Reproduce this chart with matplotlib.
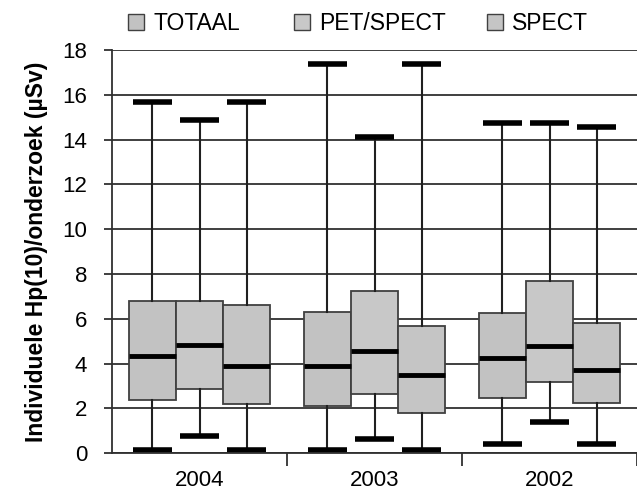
import matplotlib
matplotlib.use("Agg")
import matplotlib.pyplot as plt
from matplotlib.patches import Patch
import numpy as np

plt.rcParams['font.family'] = ['Liberation Sans', 'DejaVu Sans']

years = ["2004", "2003", "2002"]
series = ["TOTAAL", "PET/SPECT", "SPECT"]

# per series: values per year (2004, 2003, 2002)
whislo = {"TOTAAL": [0.13, 0.13, 0.4], "PET/SPECT": [0.76, 0.65, 1.4], "SPECT": [0.13, 0.13, 0.4]}
q1 = {"TOTAAL": [2.37, 2.1, 2.45], "PET/SPECT": [2.86, 2.65, 3.2], "SPECT": [2.19, 1.8, 2.25]}
med = {"TOTAAL": [4.35, 3.88, 4.25], "PET/SPECT": [4.82, 4.55, 4.8], "SPECT": [3.88, 3.5, 3.7]}
q3 = {"TOTAAL": [6.79, 6.3, 6.25], "PET/SPECT": [6.8, 7.25, 7.7], "SPECT": [6.6, 5.7, 5.8]}
whishi = {"TOTAAL": [15.7, 17.4, 14.75], "PET/SPECT": [14.9, 14.1, 14.75], "SPECT": [15.7, 17.4, 14.55]}

fills = {"TOTAAL": "#c2c2c2", "PET/SPECT": "#c8c8c8", "SPECT": "#c5c5c5"}

fig = plt.figure(figsize=(6.37, 4.91), dpi=100)
ax = fig.add_axes([0.176, 0.077, 0.824, 0.821])

width = 0.27
offsets = [-width, 0, width]
for si, s in enumerate(series):
    stats = []
    for yi in range(len(years)):
        stats.append(dict(whislo=whislo[s][yi], q1=q1[s][yi], med=med[s][yi],
                          q3=q3[s][yi], whishi=whishi[s][yi], fliers=[]))
    pos = [yi + offsets[si] for yi in range(len(years))]
    ax.bxp(stats, positions=pos, widths=width, patch_artist=True,
           showfliers=False, manage_ticks=False,
           boxprops=dict(facecolor=fills[s], edgecolor="#404040", linewidth=1.3),
           medianprops=dict(color="black", linewidth=3.5, solid_capstyle="butt"),
           whiskerprops=dict(color="#202020", linewidth=1.5),
           capprops=dict(color="black", linewidth=4, solid_capstyle="butt"),
           capwidths=width * 0.82)

ax.set_xlim(-0.5, len(years) - 0.5)
ax.set_ylim(0, 18)
ax.set_yticks(np.arange(0, 19, 2))
ax.yaxis.grid(True, color="#303030", linewidth=1.3)
ax.set_axisbelow(True)

ax.set_xticks(range(len(years)))
ax.set_xticklabels(years, fontsize=16)
ax.tick_params(axis='x', length=0, pad=12)
ax.set_xticks([0.5, 1.5, 2.5], minor=True)
ax.tick_params(axis='x', which='minor', length=9, width=1.3, direction='out', color="#303030")
ax.tick_params(axis='y', labelsize=16, length=6, width=1.3, direction='out', color="#303030", pad=12)

for sp in ["top", "right"]:
    ax.spines[sp].set_visible(False)
for sp in ["left", "bottom"]:
    ax.spines[sp].set_linewidth(1.3)
    ax.spines[sp].set_color("#303030")

ax.set_ylabel("Individuele Hp(10)/onderzoek (µSv)", fontsize=16.5, fontweight="bold", labelpad=10)

legend_x = [0.201, 0.461, 0.764]
for s, lx in zip(series, legend_x):
    leg = fig.legend(handles=[Patch(facecolor=fills[s], edgecolor="#404040", label=s)],
                     loc="upper left", bbox_to_anchor=(lx, 0.975), frameon=False,
                     fontsize=16.5, handlelength=0.7, handleheight=0.7,
                     handletextpad=0.4, borderpad=0, borderaxespad=0)

fig.savefig("out.png", dpi=100)
